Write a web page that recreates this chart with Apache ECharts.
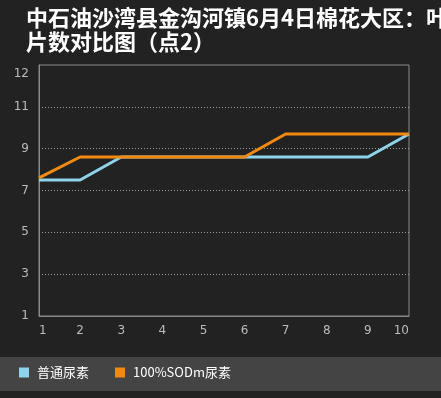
<!DOCTYPE html>
<html>
<head>
<meta charset="utf-8">
<script src="https://cdn.jsdelivr.net/npm/echarts@6/dist/echarts.min.js"></script>
<style>
    html, body { margin: 0; padding: 0; background: #222222; }
    #chart { width: 441px; height: 398px; }
</style>
</head>
<body>
<div id="chart"></div>
<script>
// data
let categories = ['1', '2', '3', '4', '5', '6', '7', '8', '9', '10'];
let seriesNames = ['普通尿素', '100%SODm尿素'];
let normalUrea = [7.5, 7.5, 8.6, 8.6, 8.6, 8.6, 8.6, 8.6, 8.6, 9.7];
let sodmUrea = [7.6, 8.6, 8.6, 8.6, 8.6, 8.6, 9.7, 9.7, 9.7, 9.7];
let titleText = '中石油沙湾县金沟河镇6月4日棉花大区：叶\n片数对比图（点2）';

var chart = echarts.init(document.getElementById('chart'));

option = {
    backgroundColor: '#222222',
    animation: false,
    title: {
        text: titleText,
        left: 21,
        top: 1,
        textStyle: {
            color: '#ffffff',
            fontSize: 22,
            fontWeight: 'bold',
            lineHeight: 24,
            fontFamily: '"Noto Sans CJK SC", sans-serif'
        }
    },
    // grey band behind the legend
    graphic: [{
        type: 'rect',
        z: -1,
        shape: { x: 0, y: 357, width: 441, height: 34 },
        style: { fill: '#444444' }
    }],
    legend: {
        data: seriesNames,
        left: 14,
        top: 361,
        icon: 'rect',
        itemWidth: 10,
        itemHeight: 10,
        itemGap: 26,
        textStyle: {
            color: '#ffffff',
            fontSize: 13,
            padding: [0, 0, 0, 3],
            fontFamily: '"Noto Sans CJK SC", sans-serif'
        }
    },
    grid: {
        show: true,
        borderColor: '#8a8a8a',
        borderWidth: 1,
        backgroundColor: 'transparent',
        left: 39,
        right: 32,
        top: 65,
        bottom: 82
    },
    xAxis: {
        type: 'category',
        data: categories,
        boundaryGap: false,
        axisLine: { lineStyle: { color: '#8a8a8a', width: 1 } },
        axisTick: { show: false },
        axisLabel: {
            color: '#bbbbbb',
            fontSize: 12,
            margin: 9,
            alignMinLabel: 'left',
            alignMaxLabel: 'right',
            fontFamily: 'DejaVu Sans'
        },
        splitLine: { show: false }
    },
    yAxis: {
        type: 'value',
        min: 1,
        max: 13,
        interval: 2,
        axisLine: { show: true, lineStyle: { color: '#8a8a8a', width: 1 } },
        axisTick: { show: false },
        axisLabel: {
            color: '#bbbbbb',
            fontSize: 12,
            margin: 10,
            fontFamily: 'DejaVu Sans',
            formatter: function (v) {
                if (v == 13) return '{t|12}';
                return v;
            },
            rich: {
                t: { color: '#bbbbbb', fontSize: 12, fontFamily: 'DejaVu Sans', padding: [18, 0, 0, 0] }
            }
        },
        splitLine: {
            show: true,
            showMinLine: false,
            showMaxLine: false,
            lineStyle: { color: '#9a9a9a', type: [1, 2], width: 1 }
        }
    },
    series: [{
            name: seriesNames[0],
            type: 'line',
            data: normalUrea,
            symbol: 'none',
            lineStyle: { width: 3 },
            z: 2
        },
        {
            name: seriesNames[1],
            type: 'line',
            data: sodmUrea,
            symbol: 'none',
            lineStyle: { width: 3 },
            z: 3
        }
    ],
    color: ['#8fd3ea', '#f28a12']
};
chart.setOption(option);
</script>
</body>
</html>
